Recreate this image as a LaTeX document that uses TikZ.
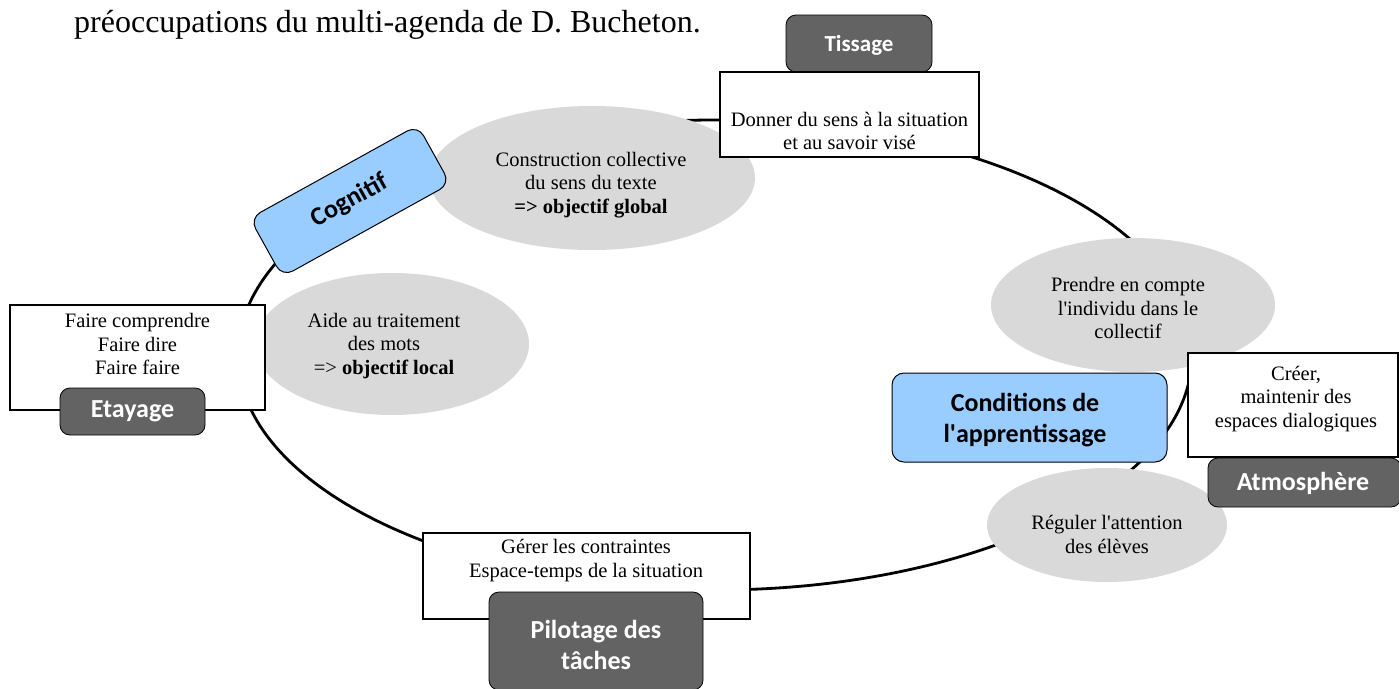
\documentclass[tikz,border=0pt]{standalone}
\usepackage{fontspec}
\setmainfont{Liberation Serif}
\newfontfamily\labfont{Carlito}
\usetikzlibrary{shapes.geometric}
\definecolor{ellgray}{RGB}{217,217,217}
\definecolor{darkg}{RGB}{99,99,99}
\definecolor{lblue}{RGB}{153,204,255}
\begin{document}
\begin{tikzpicture}[x=1pt,y=-1pt,
  txt/.style={font=\fontsize{20.5}{23.5}\selectfont, align=center, inner sep=0pt},
  whitebox/.style={draw=black, fill=white, line width=1.2pt, inner sep=0pt},
  darkbox/.style={draw=black, fill=darkg, rounded corners=10pt, line width=0.8pt, inner sep=0pt},
  bluebox/.style={draw=black, fill=lblue, rounded corners=12pt, line width=1pt, inner sep=0pt},
  grayell/.style={ellipse, fill=ellgray, inner sep=0pt},
  lbl/.style={font=\labfont\bfseries\fontsize{26}{31}\selectfont, align=center, inner sep=0pt},
  lblw/.style={lbl, text=white},
]
\useasboundingbox[fill=white] (0,0) rectangle (1399,688);

% title
\node[font=\fontsize{32}{38}\selectfont, anchor=base west, inner sep=0pt] (title) at (74,32) {préoccupations du multi-agenda de D. Bucheton.};

% main cycle
\draw[line width=2.8pt] (715,355) ellipse [x radius=477, y radius=235];

% grey ellipses
\node[grayell, minimum width=326pt, minimum height=144pt] (constr) at (592,178) {};
\node[grayell, minimum width=274pt, minimum height=142pt] (aide) at (392,344) {};
\node[grayell, minimum width=284pt, minimum height=134pt] (prendre) at (1133,305) {};
\node[grayell, minimum width=240pt, minimum height=114pt] (reguler) at (1107,525) {};

% boxes
\node[darkbox, minimum width=146pt, minimum height=57pt] (tissage) at (859,43.5) {};
\node[whitebox, minimum width=259pt, minimum height=85pt] (donner) at (849.5,114.5) {};
\node[whitebox, minimum width=255pt, minimum height=105pt] (faire) at (137.5,357.5) {};
\node[darkbox, minimum width=145pt, minimum height=47pt] (etayage) at (132.5,411.5) {};
\node[whitebox, minimum width=327pt, minimum height=86pt] (gerer) at (586.5,576) {};
\node[darkbox, minimum width=214pt, minimum height=98pt] (pilotage) at (596,641) {};
\node[whitebox, minimum width=210pt, minimum height=104pt] (creer) at (1293,405) {};
\node[darkbox, minimum width=193pt, minimum height=49pt] (atmos) at (1304.5,482.5) {};
\node[bluebox, minimum width=275pt, minimum height=89pt] (cond) at (1029.5,417.5) {};
\node[bluebox, rotate=29, minimum width=192pt, minimum height=67pt, font=\labfont\bfseries\fontsize{26}{31}\selectfont] (cogn) at (350,201) {Cognitif};

% texts
\node[txt] (donnerT) at (849.5,131) {Donner du sens à la situation\\et au savoir visé};
\node[txt] (constrT) at (591,185) {Construction collective\\du sens du texte\\\textbf{=> objectif global}};
\node[txt] (aideT) at (384,346) {Aide au traitement\\des mots\\=> \textbf{objectif local}};
\node[txt] (faireT) at (137.5,344) {Faire comprendre\\Faire dire\\Faire faire};
\node[txt] (gererT) at (586,560.5) {Gérer les contraintes\\Espace-temps de la situation};
\node[txt] (prendreT) at (1128,308) {Prendre en compte\\l\textquotesingle individu dans le\\collectif};
\node[txt] (creerT) at (1296,399) {Créer,\\maintenir des\\espaces dialogiques};
\node[txt] (regulerT) at (1107,534.5) {Réguler l\textquotesingle attention\\des élèves};

\node[lblw, font=\labfont\bfseries\fontsize{23}{27}\selectfont] (tissageT) at (859,45) {Tissage};
\node[lblw] (etayageT) at (132.5,411.5) {Etayage};
\node[lblw] (pilotageT) at (596,645) {Pilotage des\\tâches};
\node[lblw] (atmosT) at (1303,483) {Atmosphère};
\node[lbl] (condT) at (1025,420) {Conditions de\\l\textquotesingle apprentissage};
\end{tikzpicture}
\end{document}
